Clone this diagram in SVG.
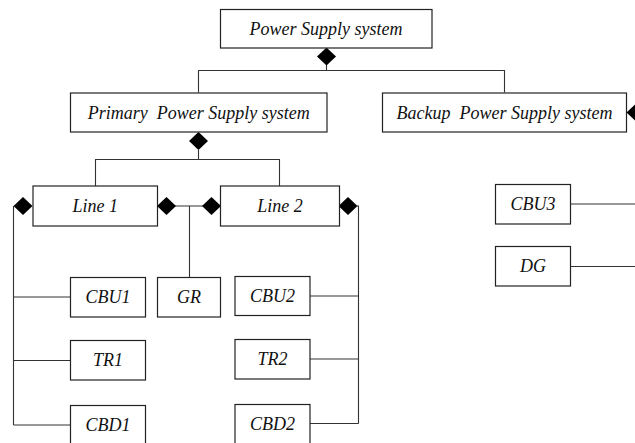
<svg xmlns="http://www.w3.org/2000/svg" xmlns:xlink="http://www.w3.org/1999/xlink" width="635" height="443" viewBox="0 0 635 443">
<style>
.box{fill:#fff;stroke:#222;stroke-width:1.2}
.lbl{font-family:"Liberation Serif","DejaVu Serif",serif;font-style:italic;font-size:18px;fill:#111;text-anchor:middle;white-space:pre}
.con{fill:none;stroke:#333;stroke-width:1.1}
.dia{fill:#000}
</style>
<defs>
<path id="dia" class="dia" d="M-9.5,0 L0,-9 L9.5,0 L0,9Z"/>
</defs>
<rect width="635" height="443" fill="#fff"/>
<g id="connectors">
<path class="con" d="M326.5,64 V70.5 M198.5,92.5 V70.5 H504.5 V92.5"/>
<path class="con" d="M198.5,150 V159.5 M95.5,186 V159.5 H279.5 V186"/>
<path class="con" d="M175,206 H204 M189.5,206 V277.5"/>
<path class="con" d="M13.5,206 V425 M13.5,297 H70.5 M13.5,360.5 H70.5 M13.5,425 H70.5"/>
<path class="con" d="M357,206 H358.5 V423.5 M310,296 H358.5 M310,359 H358.5 M310,423.5 H358.5"/>
<path class="con" d="M570.5,204 H635 M570.5,266.5 H635"/>
<use xlink:href="#dia" x="326.5" y="56.5"/>
<use xlink:href="#dia" x="198.5" y="141"/>
<use xlink:href="#dia" x="23" y="206"/>
<use xlink:href="#dia" x="166.5" y="206"/>
<use xlink:href="#dia" x="211.5" y="206"/>
<use xlink:href="#dia" x="348" y="206"/>
<use xlink:href="#dia" x="636" y="112.5"/>
</g>
<g id="power-supply-system"><rect class="box" x="220.5" y="9.5" width="211.5" height="38.5"/><text class="lbl" x="326" y="35">Power Supply system</text></g>
<g id="primary"><rect class="box" x="70.5" y="93" width="256.5" height="39"/><text class="lbl" x="198.7" y="119">Primary  Power Supply system</text></g>
<g id="backup"><rect class="box" x="382.5" y="93" width="244" height="39"/><text class="lbl" x="504.5" y="119">Backup  Power Supply system</text></g>
<g id="line1"><rect class="box" x="33" y="186" width="124.5" height="40"/><text class="lbl" x="95.3" y="212">Line 1</text></g>
<g id="line2"><rect class="box" x="220.5" y="186" width="119" height="40"/><text class="lbl" x="280" y="212">Line 2</text></g>
<g id="cbu1"><rect class="box" x="70.5" y="277.5" width="75" height="39.5"/><text class="lbl" x="108" y="303">CBU1</text></g>
<g id="gr"><rect class="box" x="157.5" y="277.5" width="63" height="39.5"/><text class="lbl" x="189" y="303">GR</text></g>
<g id="tr1"><rect class="box" x="70.5" y="340.5" width="75" height="39.5"/><text class="lbl" x="108" y="366">TR1</text></g>
<g id="cbd1"><rect class="box" x="70.5" y="405.5" width="75" height="39.5"/><text class="lbl" x="108" y="431">CBD1</text></g>
<g id="cbu2"><rect class="box" x="235" y="276.5" width="75" height="39"/><text class="lbl" x="272.5" y="302">CBU2</text></g>
<g id="tr2"><rect class="box" x="235" y="339.5" width="75" height="39.5"/><text class="lbl" x="272.5" y="365">TR2</text></g>
<g id="cbd2"><rect class="box" x="235" y="404.5" width="75" height="39.5"/><text class="lbl" x="272.5" y="430">CBD2</text></g>
<g id="cbu3"><rect class="box" x="495.5" y="184.5" width="75" height="39.5"/><text class="lbl" x="533" y="210">CBU3</text></g>
<g id="dg"><rect class="box" x="495.5" y="246.5" width="75" height="39.5"/><text class="lbl" x="533" y="272">DG</text></g>
</svg>
